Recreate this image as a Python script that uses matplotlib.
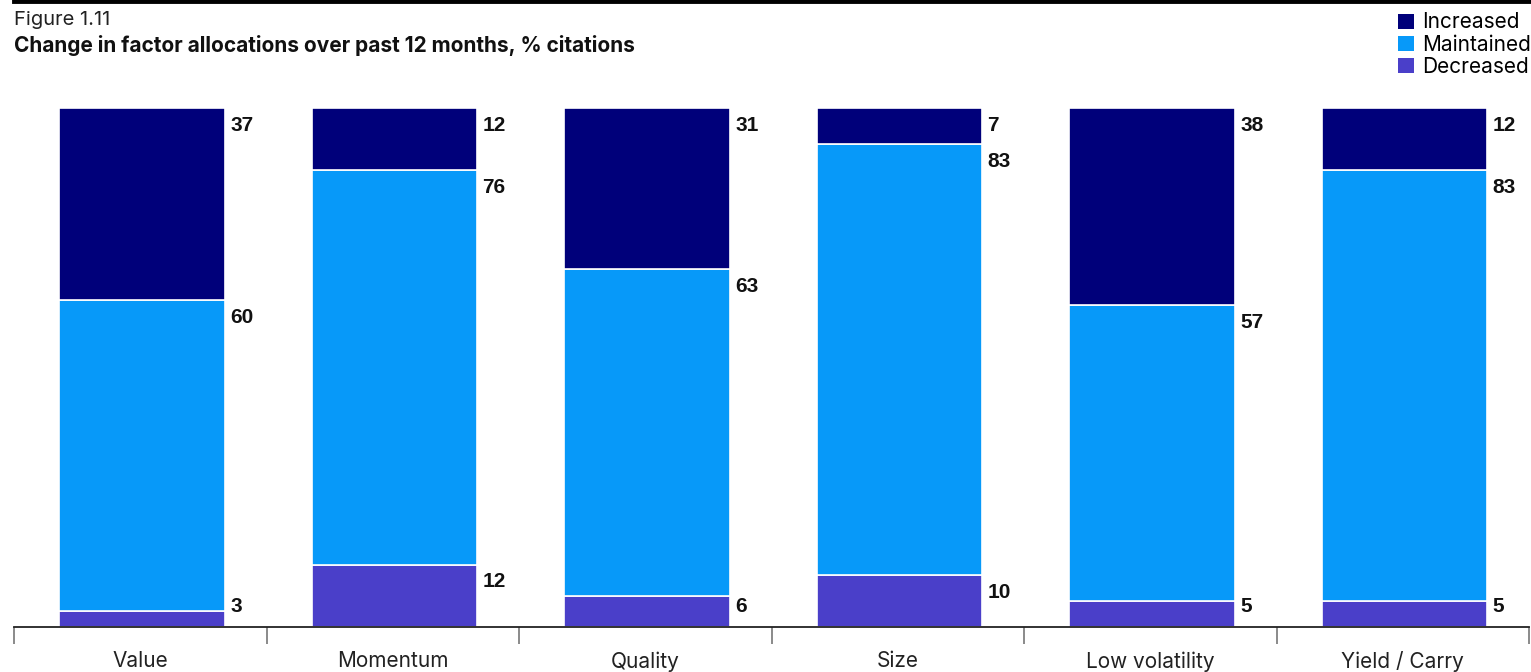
import numpy as np
import matplotlib.pyplot as plt
from matplotlib.lines import Line2D
from matplotlib.patches import Patch

plt.rcParams['font.family'] = ['Inter', 'DejaVu Sans']

categories = ["Value", "Momentum", "Quality", "Size", "Low volatility", "Yield / Carry"]
increased = [37, 12, 31, 7, 38, 12]
maintained = [60, 76, 63, 83, 57, 83]
decreased = [3, 12, 6, 10, 5, 5]

series_names = ["Increased", "Maintained", "Decreased"]
colors = {"Increased": "#00007a", "Maintained": "#0799f9", "Decreased": "#4a3fc9"}

fig = plt.figure(figsize=(15.31, 6.72), dpi=100)
ax = fig.add_axes([14 / 1531, 45 / 672, 1515 / 1531, 519 / 672])

x = np.arange(len(categories))
w = 0.657

# stack from the bottom: decreased, maintained, increased
stack = [("Decreased", decreased), ("Maintained", maintained), ("Increased", increased)]
bottom = np.zeros(len(categories))
for name, vals in stack:
    vals = np.array(vals, dtype=float)
    ax.bar(x + 0.007, vals, w, bottom=bottom, color=colors[name],
           edgecolor="white", linewidth=1.2, zorder=2)
    tops = bottom + vals
    for xi, t in zip(x, tops):
        ypos = max(t - 3.3, 3.9)
        ax.text(xi + 0.007 + w / 2 + 0.02, ypos, f"{int(round(vals[xi]))}",
                ha="left", va="center", fontsize=15, fontweight="bold",
                family=["Liberation Sans", "DejaVu Sans"], color="#111111")
    bottom = tops

ax.set_xlim(-0.5, len(categories) - 0.5)
ax.set_ylim(0, 100)
for s in ["top", "right", "left"]:
    ax.spines[s].set_visible(False)
ax.spines["bottom"].set_color("#222222")
ax.spines["bottom"].set_linewidth(1.3)
ax.set_yticks([])
ax.set_xticks(x)
ax.set_xticklabels(categories, fontsize=15, color="#222222")
ax.tick_params(axis="x", which="major", length=0, pad=17.5)
ax.set_xticks(np.arange(-0.5, len(categories)), minor=True)
ax.tick_params(axis="x", which="minor", length=12, width=1.2, color="#777777", direction="out")

# top rule
fig.add_artist(Line2D([14 / 1531, 1.0], [0.998, 0.998], color="black", linewidth=3.5))

fig.text(14 / 1531, 1 - 20 / 672, "Figure 1.11", fontsize=14.5, va="center", ha="left", color="#222222")
fig.text(14 / 1531, 1 - 46 / 672, "Change in factor allocations over past 12 months, % citations",
         fontsize=15, fontweight="bold", va="center", ha="left", color="#111111")

handles = [Patch(facecolor=colors[n], edgecolor="none") for n in series_names]
fig.legend(handles, series_names, loc="upper right", bbox_to_anchor=(1.008, 1.0),
           frameon=False, fontsize=15, handlelength=0.75, handleheight=0.75,
           handletextpad=0.4, labelspacing=0.1, borderaxespad=0.2)

fig.savefig("out.png", dpi=100)
